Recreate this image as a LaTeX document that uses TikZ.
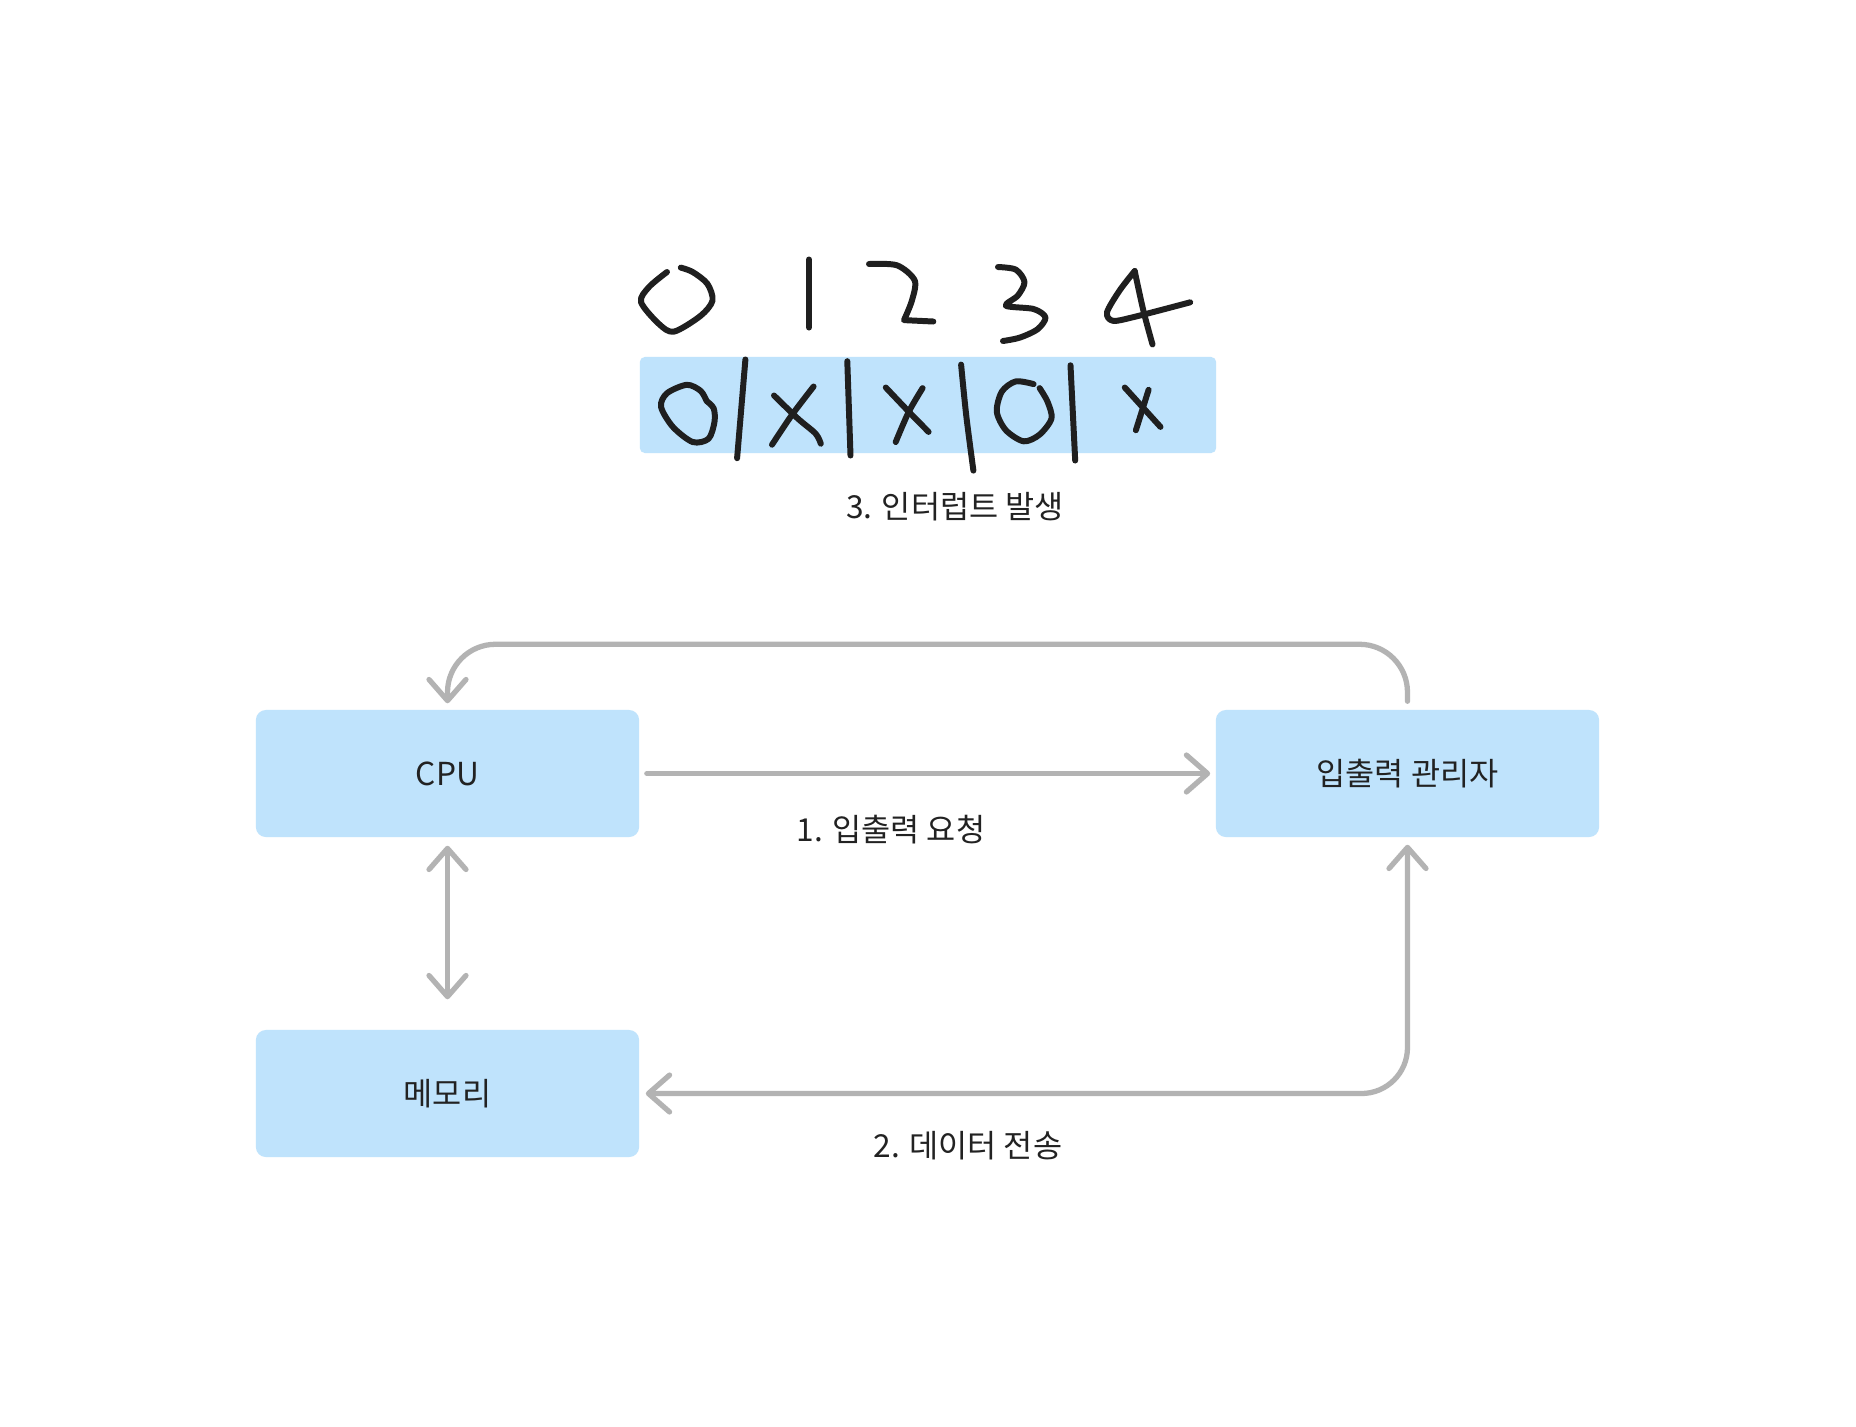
\documentclass[tikz,border=0pt]{standalone}
\usepackage{fontspec}
\setmainfont{Noto Sans CJK KR}
\definecolor{mBoxBlue}{HTML}{BFE3FC}
\definecolor{mArrowGrey}{HTML}{B3B3B3}
\definecolor{mInk}{HTML}{1F1F1F}
\definecolor{mText}{HTML}{222222}
\usetikzlibrary{arrows.meta}

\tikzset{
  unitbox/.style={fill=mBoxBlue, rounded corners=0.1cm, minimum width=3.83cm, minimum height=1.27cm, inner sep=0pt},
  bitbox/.style={fill=mBoxBlue, rounded corners=0.05cm, minimum width=5.76cm, minimum height=0.96cm, inner sep=0pt},
  steplabel/.style={inner sep=0pt},
  flowarrow/.style={draw=mArrowGrey, line width=1.5pt, line cap=round, -{Straight Barb[length=6pt,width=10.5pt,round]}},
  flowboth/.style={draw=mArrowGrey, line width=1.5pt, line cap=round, {Straight Barb[length=6pt,width=10.5pt,round]}-{Straight Barb[length=6pt,width=10.5pt,round]}},
  ink/.style={draw=mInk, line width=1.7pt, line cap=round, line join=round}
}

\begin{document}
\begin{tikzpicture}[x=0.01cm, y=-0.01cm, font=\fontsize{9}{11}\selectfont, text=mText]
\fill[white] (0,0) rectangle (1856,1426);
\useasboundingbox (0,0) rectangle (1856,1426);

% boxes
\node[unitbox] (cpu) at (447.5,773.5) {CPU};
\node[unitbox] (iomgr) at (1407.5,773.5) {입출력 관리자};
\node[unitbox] (mem) at (447.5,1093.5) {메모리};
\node[bitbox] (bits) at (928,405) {};

% connectors
\draw[flowarrow] ([xshift=0.07cm]cpu.east) -- ([xshift=-0.05cm]iomgr.west);
\draw[flowarrow, rounded corners=0.48cm] ([yshift=0.08cm]iomgr.north) -- ++(0,-57) -| ([yshift=0.06cm]cpu.north);
\draw[flowboth] ([yshift=-0.08cm]cpu.south) -- ([yshift=0.3cm]mem.north);
\draw[flowboth, rounded corners=0.46cm] ([yshift=-0.07cm]iomgr.south) |- ([xshift=0.06cm]mem.east);

% labels
\node[steplabel] (lblreq) at (891,830) {1. 입출력 요청};
\node[steplabel] (lbldata) at (968,1146) {2. 데이터 전송};
\node[steplabel] (lblirq) at (955,507) {3. 인터럽트 발생};

% handwritten index row
\draw[ink] plot[smooth] coordinates {(667,272) (649,287) (641,302) (659,324) (674,331.6) (700.6,315.8) (712.5,300.6) (707.4,283.8) (692.7,272) (680.8,267.6)};
\draw[ink] (809,259.5) -- (809,327.5);
\draw[ink] plot[smooth] coordinates {(869,264) (897,265.3) (914.7,280.4) (911.9,300.6) (904,320.1)} -- (933.3,321.5);
\draw[ink] plot[smooth] coordinates {(998,267) (1015.8,269.6) (1024.5,282) (1017.8,295.6) (1005.9,305.7) (1033.6,309) (1045.5,317.4) (1037.6,329.2) (1019.8,337.6) (1003,341)};
\draw[ink] plot[smooth] coordinates {(1134.7,271) (1119.6,290.5) (1107,312.4) (1113,320.8) (1134.7,316.8) (1190.2,302.3)};
\draw[ink] plot[smooth] coordinates {(1134.7,271) (1143.4,310.7) (1152.5,344.4)};

% handwritten bit row
\draw[ink] plot[smooth] coordinates {(706.6,401) (700.6,390.8) (686.8,384.8) (667,393.2) (661,406.7) (672.9,426.9) (692.7,442) (708.6,438.7) (714.5,421.8) (713.7,408.4) (706.6,401)};
\draw[ink] (745.4,359.5) -- (737.1,458.2);
\draw[ink] plot[smooth] coordinates {(774,395.5) (797.8,418.5) (815.6,433.6) (820.8,443.7)};
\draw[ink] plot[smooth] coordinates {(813.6,386.5) (791.8,415.1) (772,444.7)};
\draw[ink] (847.3,361.2) -- (850.5,455.5);
\draw[ink] plot[smooth] coordinates {(885.8,387.5) (908.8,411.7) (928.6,431.9)};
\draw[ink] plot[smooth] coordinates {(922.6,388.1) (908.8,411.7) (895.7,442)};
\draw[ink] plot[smooth] coordinates {(961.1,364.6) (966.2,415.1) (973.4,470.6)};
\draw[ink] plot[smooth] coordinates {(1033.6,384.1) (1015.8,381.4) (1001.9,391.5) (996.8,411.7) (1005.9,430.2) (1023.7,441.3) (1039.6,434.6) (1051.5,418.5) (1047.5,401.6) (1039.6,388.1)};
\draw[ink] (1070.5,365.3) -- (1075.2,460.5);
\draw[ink] (1124.8,387.5) -- (1160.5,426.9);
\draw[ink] (1148.6,389.8) -- (1135.9,430.2);
\end{tikzpicture}
\end{document}
